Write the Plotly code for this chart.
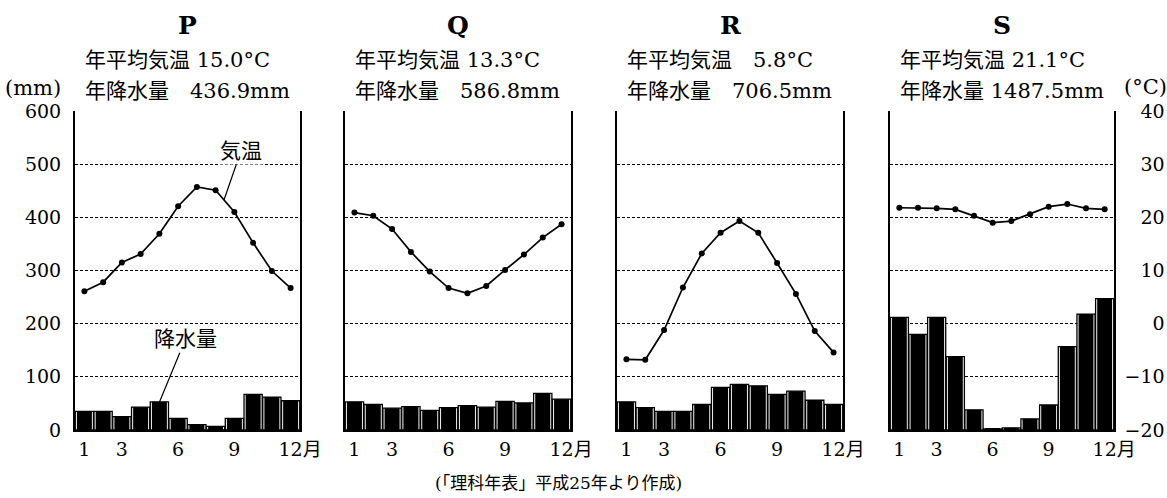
import plotly.graph_objects as go

# ---------------- data ----------------
months = list(range(1, 13))
month_tickvals = [1, 3, 6, 9, 12]
month_ticktext = ["1", "3", "6", "9", "\u300012月"]

panel_names = ["P", "Q", "R", "S"]
annual_temp_text = ["年平均気温 15.0°C", "年平均気温 13.3°C", "年平均気温\u30005.8°C", "年平均気温 21.1°C"]
annual_prec_text = ["年降水量\u3000436.9mm", "年降水量\u3000586.8mm", "年降水量\u3000706.5mm", "年降水量 1487.5mm"]

temp_P = [6.1, 7.8, 11.5, 13.1, 16.9, 22.1, 25.7, 25.1, 21.0, 15.2, 9.9, 6.7]
prec_P = [35, 35, 25, 43, 53, 22, 10, 7, 22, 67, 62, 55]
temp_Q = [20.9, 20.3, 17.8, 13.5, 9.8, 6.7, 5.7, 7.1, 10.1, 13.0, 16.2, 18.7]
prec_Q = [53, 48, 41, 44, 37, 42, 46, 43, 54, 51, 69, 58]
temp_R = [-6.7, -6.8, -1.2, 6.8, 13.2, 17.1, 19.3, 17.1, 11.4, 5.6, -1.4, -5.4]
prec_R = [53, 42, 35, 35, 48, 80, 86, 83, 67, 73, 56, 48]
temp_S = [21.8, 21.8, 21.7, 21.5, 20.3, 19.0, 19.3, 20.6, 22.0, 22.5, 21.7, 21.5]
prec_S = [212, 180, 212, 138, 38, 2, 4, 21, 47, 157, 218, 247]

temps = [temp_P, temp_Q, temp_R, temp_S]
precs = [prec_P, prec_Q, prec_R, prec_S]

prec_ticks = [0, 100, 200, 300, 400, 500, 600]
temp_ticks = [-20, -10, 0, 10, 20, 30, 40]
temp_ticktext = ["\u221220", "\u221210", "0", "10", "20", "30", "40"]

source_text = "(「理科年表」平成25年より作成)"

# ---------------- layout constants ----------------
W, H = 1167, 498
FONT = "DejaVu Serif, Noto Sans CJK JP"
TICK = 19
panels_px = [(75, 300), (345, 571), (617, 843), (890, 1114)]
top_px, bot_px = 111, 430


def px_x(x):
    return x / W


def px_y(y):
    return 1 - y / H


fig = go.Figure()
layout = dict(
    template="none",
    width=W, height=H,
    margin=dict(l=0, r=0, t=0, b=0, pad=0, autoexpand=False),
    paper_bgcolor="white", plot_bgcolor="white",
    showlegend=False, barmode="overlay",
    font=dict(family=FONT, color="black", size=18),
)

ydom = [px_y(bot_px), px_y(top_px)]
annotations = []


def label(text, x, y, size, xanchor="center", bold=False):
    return dict(text=f"<b>{text}</b>" if bold else text, x=px_x(x), y=px_y(y),
                xref="paper", yref="paper", showarrow=False,
                font=dict(size=size, family=FONT), xanchor=xanchor, yanchor="middle")


for i in range(4):
    n = i + 1
    xa = "x" if n == 1 else f"x{n}"
    ya = "y" if n == 1 else f"y{n}"
    ta = f"y{n + 4}"
    l, r = panels_px[i]

    # bars: white-filled outline then black fill
    fig.add_trace(go.Bar(x=months, y=precs[i], xaxis=xa, yaxis=ya, width=0.97,
                         marker=dict(color="white", line=dict(color="black", width=1.3))))
    fig.add_trace(go.Bar(x=months, y=precs[i], xaxis=xa, yaxis=ya, width=0.80,
                         marker=dict(color="black", line=dict(width=0))))
    # temperature line
    fig.add_trace(go.Scatter(x=months, y=temps[i], xaxis=xa, yaxis=ta, mode="lines+markers",
                             line=dict(color="black", width=1.7),
                             marker=dict(color="black", size=6)))

    layout[f"xaxis{n}"] = dict(
        domain=[px_x(l), px_x(r)], anchor=ya, range=[0.5, 12.5],
        tickvals=month_tickvals, ticktext=month_ticktext,
        showline=True, linecolor="black", linewidth=2, ticks="",
        showgrid=False, zeroline=False, tickfont=dict(size=TICK, family=FONT),
        automargin=False, ticklabelstandoff=1,
    )
    layout[f"yaxis{n}"] = dict(
        domain=ydom, anchor=xa, range=[0, 600], tickvals=prec_ticks,
        showgrid=True, gridcolor="black", gridwidth=1, griddash="3px,2px",
        showline=True, linecolor="black", linewidth=2, ticks="",
        showticklabels=(n == 1), tickfont=dict(size=TICK, family=FONT),
        zeroline=False, ticklabelstandoff=8, automargin=False,
    )
    layout[f"yaxis{n + 4}"] = dict(
        overlaying=ya, anchor=xa, side="right", range=[-20, 40],
        tickvals=temp_ticks, showgrid=False, zeroline=False,
        showline=True, linecolor="black", linewidth=2, ticks="",
        showticklabels=False, automargin=False,
    )

    cx = (l + r) / 2
    annotations.append(label(panel_names[i], cx, 26, 25, bold=True))
    annotations.append(label(annual_temp_text[i], l + 8, 60, 21, xanchor="left"))
    annotations.append(label(annual_prec_text[i], l + 8, 91, 21, xanchor="left"))

# right-hand temperature tick labels (right aligned at figure edge)
layout["yaxis9"] = dict(
    overlaying="y4", anchor="free", position=0.998, side="left", range=[-20, 40],
    tickvals=temp_ticks, ticktext=temp_ticktext, showgrid=False, zeroline=False,
    showline=False, ticks="", tickfont=dict(size=TICK, family=FONT), automargin=False,
    ticklabelstandoff=0,
)
fig.add_trace(go.Scatter(x=[None], y=[None], xaxis="x4", yaxis="y9", showlegend=False))

# units
annotations.append(label("(mm)", 33, 88, 21))
annotations.append(label("(°C)", 1145, 87, 21))

# labels with leader lines in panel P
annotations.append(dict(text="気温", x=8.45, y=23.3, xref="x", yref="y5", ax=17, ay=-49,
                        axref="pixel", ayref="pixel", showarrow=True, arrowhead=0,
                        arrowwidth=1.2, arrowcolor="black", standoff=0,
                        font=dict(size=21, family=FONT), bgcolor="white"))
annotations.append(dict(text="降水量", x=5, y=52, xref="x", yref="y", ax=26, ay=-63,
                        axref="pixel", ayref="pixel", showarrow=True, arrowhead=0,
                        arrowwidth=1.2, arrowcolor="black", standoff=0,
                        font=dict(size=21, family=FONT), bgcolor="white"))

# source
annotations.append(label(source_text, 558, 483, 17))

layout["annotations"] = annotations
fig.update_layout(**layout)
fig.write_html("out.html", config={"displayModeBar": False},
               post_script="document.body.style.margin='0px';")
